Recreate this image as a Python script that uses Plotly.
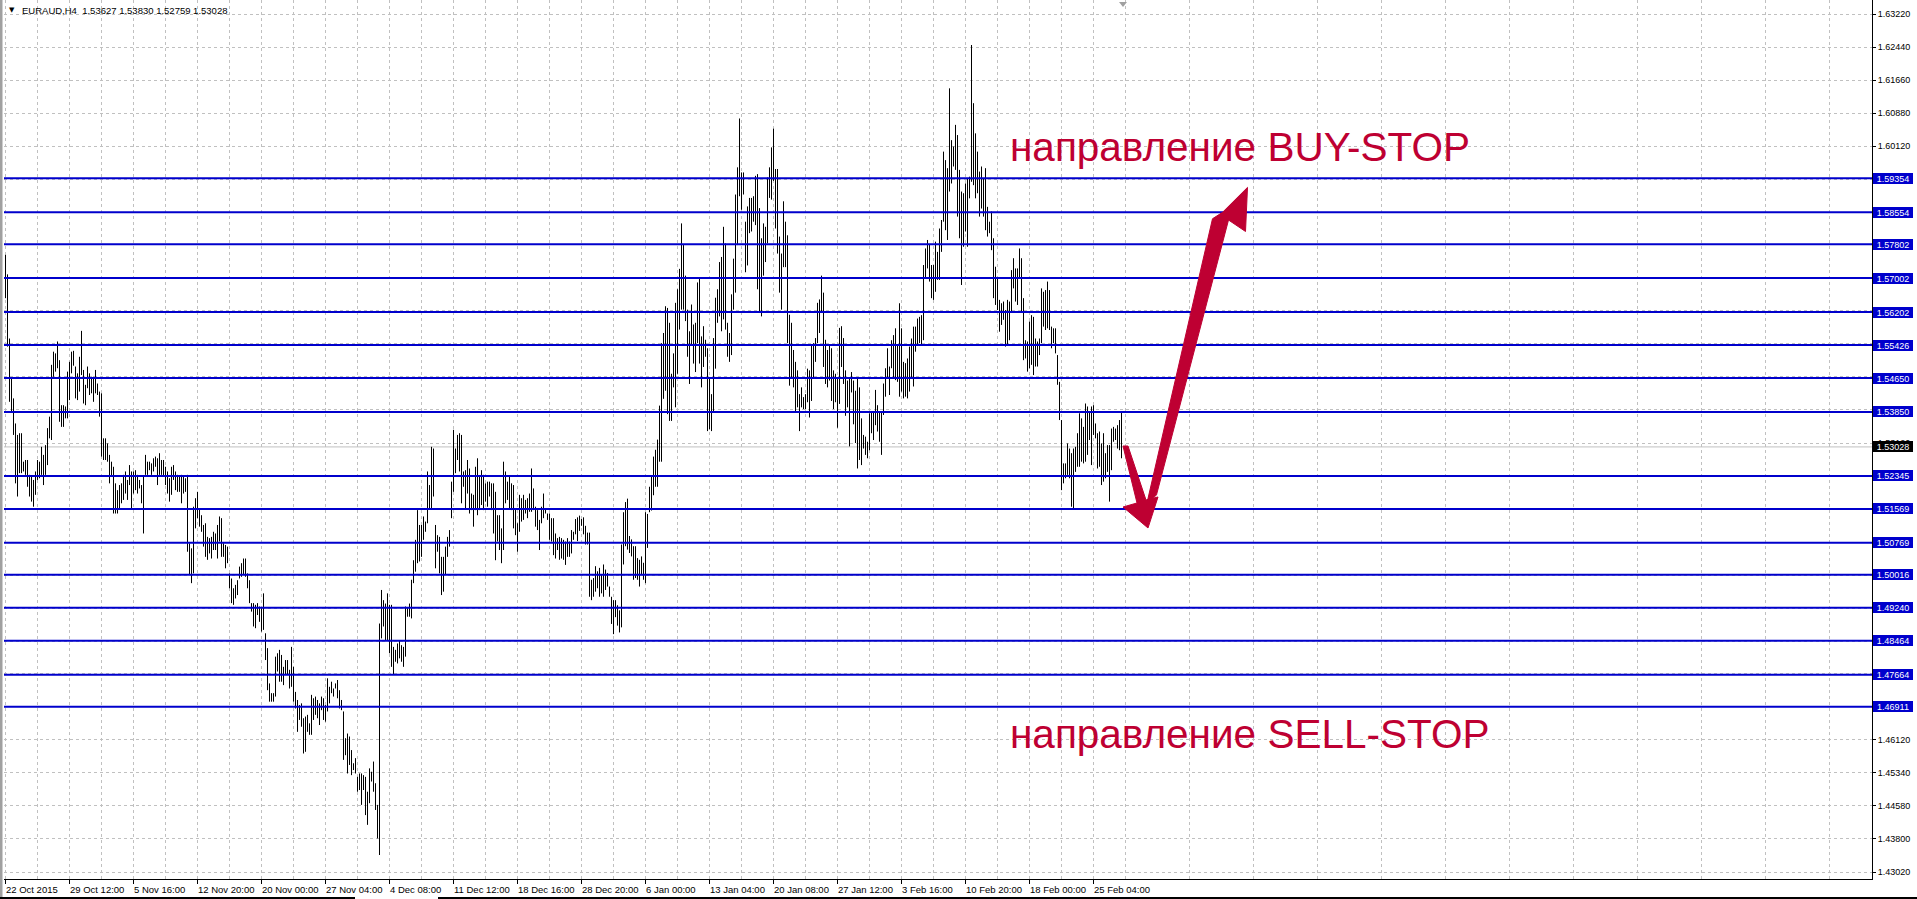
import plotly.graph_objects as go

# ---------------- data ----------------
SYMBOL = "EURAUD,H4"
LAST_OHLC = ["1.53627", "1.53830", "1.52759", "1.53028"]
BID = 1.53028

HIGH = [
1.5755,1.5709,1.5558,1.5464,1.5417,1.5358,1.5331,1.5335,1.5335,1.5268,1.5272,1.5272,1.5237,1.5233,1.5225,1.5245,
1.5272,1.5268,1.5303,1.5284,1.5307,1.5347,1.5374,1.5496,1.5527,1.5523,1.5551,1.5507,1.5401,1.5401,1.5398,1.5480,
1.5503,1.5527,1.5529,1.5492,1.5476,1.5515,1.5576,1.5484,1.5449,1.5492,1.5476,1.5468,1.5468,1.5484,1.5452,1.5433,
1.5429,1.5323,1.5323,1.5311,1.5284,1.5268,1.5256,1.5217,1.5201,1.5213,1.5217,1.5237,1.5245,1.5225,1.5260,1.5245,
1.5245,1.5248,1.5237,1.5225,1.5213,1.5233,1.5284,1.5268,1.5268,1.5264,1.5276,1.5280,1.5276,1.5288,1.5272,1.5272,
1.5256,1.5245,1.5229,1.5256,1.5260,1.5245,1.5237,1.5233,1.5237,1.5233,1.5229,1.5237,1.5076,1.5064,1.5162,1.5182,
1.5197,1.5158,1.5142,1.5119,1.5123,1.5091,1.5088,1.5091,1.5103,1.5099,1.5119,1.5139,1.5135,1.5076,1.5072,1.5068,
1.5005,1.4993,1.4970,1.4978,1.4989,1.5021,1.5029,1.5040,1.5040,1.5005,1.4989,1.4935,1.4935,1.4931,1.4935,1.4927,
1.4923,1.4958,1.4864,1.4829,1.4746,1.4723,1.4723,1.4809,1.4817,1.4825,1.4813,1.4785,1.4801,1.4801,1.4778,
1.4832,1.4785,1.4726,1.4707,1.4695,1.4699,1.4664,1.4668,1.4672,1.4652,1.4719,1.4711,1.4715,1.4707,1.4699,1.4715,
1.4711,1.4695,1.4758,1.4738,1.4750,1.4734,1.4746,1.4754,1.4730,1.4707,1.4680,1.4617,1.4628,1.4621,1.4589,1.4558,
1.4570,1.4526,1.4534,1.4534,1.4530,1.4526,1.4491,1.4546,1.4538,1.4562,1.4511,1.4460,1.4887,1.4966,1.4942,1.4934,
1.4958,1.4931,1.4931,1.4832,1.4825,1.4840,1.4848,1.4836,1.4832,1.4927,1.4923,1.4934,1.4990,1.5036,1.5084,1.5154,
1.5119,1.5119,1.5139,1.5127,1.5245,1.5213,1.5303,1.5299,1.5119,1.5095,1.5091,1.5044,1.5044,1.5068,1.5091,1.5107,
1.5221,1.5343,1.5299,1.5331,1.5335,1.5331,1.5245,1.5248,1.5272,1.5252,1.5193,1.5190,1.5256,1.5276,1.5233,1.5248,
1.5237,1.5217,1.5221,1.5221,1.5217,1.5217,1.5197,1.5142,1.5142,1.5111,1.5268,1.5245,1.5221,1.5233,1.5217,1.5213,
1.5158,1.5123,1.5190,1.5182,1.5190,1.5178,1.5182,1.5193,1.5252,1.5205,1.5162,1.5154,1.5131,1.5162,1.5193,1.5158,
1.5146,1.5146,1.5135,1.5135,1.5099,1.5088,1.5091,1.5088,1.5084,1.5080,1.5088,1.5080,1.5107,1.5103,
1.5133,1.5137,1.5141,1.5133,1.5137,1.5117,1.5101,1.5101,1.4990,1.4994,1.5022,1.5010,1.5018,1.5002,1.5026,1.5014,
1.5006,1.4974,1.4950,1.4942,1.4942,1.4930,1.4918,1.5073,1.5149,1.5173,1.5181,1.5093,1.5085,1.5069,1.5069,1.5041,
1.5037,1.5045,1.5030,1.5149,1.5145,1.5209,1.5236,1.5280,1.5296,1.5320,1.5400,1.5547,1.5571,1.5634,1.5630,1.5595,
1.5475,1.5523,1.5642,1.5674,1.5722,1.5829,1.5778,1.5706,1.5626,1.5575,1.5638,1.5591,1.5595,1.5690,1.5698,1.5563,
1.5587,1.5555,1.5535,1.5467,1.5427,1.5559,1.5654,1.5674,1.5738,1.5750,1.5821,1.5782,1.5595,1.5571,1.5662,1.5746,
1.5897,1.5961,1.6076,1.5949,1.5949,1.5833,1.5869,1.5889,1.5889,1.5893,1.5941,1.5945,1.5865,1.5794,1.5829,1.5821,
1.5937,1.5961,1.6008,1.6052,1.5957,1.5957,1.5798,1.5758,1.5881,1.5833,1.5801,1.5614,1.5595,1.5531,1.5503,1.5483,
1.5427,1.5443,1.5420,1.5427,1.5487,1.5483,1.5543,1.5547,1.5559,1.5642,1.5650,1.5706,1.5666,1.5555,1.5531,1.5543,
1.5535,1.5483,1.5475,1.5467,1.5583,1.5587,1.5559,1.5483,1.5459,1.5467,1.5479,1.5459,1.5435,1.5463,1.5443,
1.5370,1.5331,1.5327,1.5315,1.5382,1.5386,1.5386,1.5437,1.5401,1.5386,1.5386,1.5452,1.5488,1.5535,1.5492,1.5554,
1.5566,1.5582,1.5543,1.5641,1.5582,1.5503,1.5500,1.5511,1.5539,1.5558,1.5586,1.5586,1.5605,1.5609,1.5613,1.5731,
1.5770,1.5790,1.5778,1.5731,1.5731,1.5786,1.5762,1.5817,1.5837,1.5998,1.5978,1.5959,1.6147,1.6025,1.6010,1.6061,
1.6037,1.5955,1.5904,1.5900,1.5923,1.5935,1.5939,1.6249,1.6112,1.6041,1.5998,1.5951,1.5963,1.5935,1.5959,1.5868,
1.5833,1.5857,1.5794,1.5727,1.5700,1.5649,1.5641,1.5645,1.5625,1.5649,1.5645,1.5719,1.5747,1.5723,1.5723,1.5770,
1.5747,1.5653,1.5554,1.5551,1.5598,1.5613,1.5609,1.5558,1.5551,1.5558,1.5676,1.5668,1.5672,1.5692,1.5672,1.5586,
1.5582,1.5582,1.5519,1.5456,1.5366,1.5264,1.5264,1.5311,1.5299,1.5288,1.5299,1.5303,1.5335,1.5382,1.5370,1.5350,
1.5405,1.5398,1.5386,1.5398,1.5401,1.5358,1.5335,1.5339,1.5311,1.5335,1.5288,1.5307,1.5307,1.5346,1.5350,1.5346,
1.5354,1.5366,1.5383,
]

LOW = [
1.5653,1.5539,1.5409,1.5386,1.5331,1.5217,1.5186,1.5241,1.5241,1.5245,1.5237,1.5209,1.5186,1.5174,1.5162,1.5190,
1.5225,1.5229,1.5237,1.5213,1.5237,1.5260,1.5323,1.5319,1.5468,1.5480,1.5488,1.5362,1.5350,1.5350,1.5370,1.5370,
1.5413,1.5476,1.5494,1.5417,1.5413,1.5433,1.5472,1.5405,1.5401,1.5441,1.5425,1.5429,1.5409,1.5429,1.5425,1.5374,
1.5280,1.5272,1.5272,1.5268,1.5217,1.5233,1.5146,1.5146,1.5146,1.5158,1.5170,1.5178,1.5193,1.5178,1.5213,1.5158,
1.5193,1.5201,1.5193,1.5205,1.5170,1.5099,1.5237,1.5237,1.5248,1.5237,1.5245,1.5256,1.5213,1.5237,1.5237,1.5233,
1.5213,1.5193,1.5174,1.5190,1.5225,1.5201,1.5197,1.5197,1.5170,1.5193,1.5197,1.5056,1.5001,1.4982,1.5005,1.5111,
1.5135,1.5115,1.5103,1.5068,1.5044,1.5037,1.5052,1.5040,1.5060,1.5060,1.5040,1.5080,1.5044,1.5044,1.5017,1.5029,
1.4970,1.4935,1.4931,1.4946,1.4954,1.4993,1.4997,1.5001,1.4997,1.4970,1.4935,1.4915,1.4880,1.4876,1.4907,1.4891,
1.4868,1.4872,1.4801,1.4730,1.4703,1.4703,1.4703,1.4715,1.4774,1.4750,1.4750,1.4742,1.4766,1.4766,1.4734,
1.4738,1.4703,1.4687,1.4632,1.4660,1.4644,1.4581,1.4585,1.4632,1.4625,1.4625,1.4660,1.4672,1.4664,1.4648,1.4683,
1.4660,1.4656,1.4680,1.4699,1.4723,1.4715,1.4734,1.4711,1.4687,1.4683,1.4566,1.4577,1.4534,1.4554,1.4530,1.4542,
1.4534,1.4491,1.4495,1.4460,1.4495,1.4436,1.4413,1.4464,1.4515,1.4491,1.4448,1.4381,1.4342,1.4852,1.4880,1.4848,
1.4848,1.4817,1.4785,1.4766,1.4797,1.4793,1.4805,1.4797,1.4785,1.4809,1.4903,1.4903,1.4899,1.4982,1.5009,1.5029,
1.5033,1.5044,1.5084,1.5103,1.5123,1.5158,1.5158,1.5186,1.5017,1.5056,1.5005,1.4954,1.4962,1.5001,1.5044,1.5068,
1.5135,1.5197,1.5241,1.5272,1.5245,1.5170,1.5209,1.5158,1.5193,1.5146,1.5154,1.5115,1.5154,1.5142,1.5154,1.5166,
1.5154,1.5174,1.5162,1.5186,1.5154,1.5099,1.5036,1.5080,1.5060,1.5029,1.5060,1.5170,1.5178,1.5158,1.5154,1.5111,
1.5095,1.5056,1.5103,1.5127,1.5131,1.5146,1.5135,1.5150,1.5150,1.5154,1.5115,1.5107,1.5060,1.5123,1.5135,1.5146,
1.5131,1.5084,1.5080,1.5048,1.5040,1.5060,1.5037,1.5040,1.5037,1.5025,1.5044,1.5044,1.5052,1.5084,
1.5097,1.5081,1.5105,1.5117,1.5097,1.5073,1.5073,1.4950,1.4942,1.4950,1.4962,1.4970,1.4950,1.4958,1.4950,1.4966,
1.4974,1.4950,1.4886,1.4862,1.4902,1.4882,1.4866,1.4878,1.5026,1.5069,1.5061,1.5053,1.5045,1.4990,1.4994,1.4990,
1.4974,1.5002,1.4990,1.4982,1.5065,1.5149,1.5153,1.5189,1.5209,1.5209,1.5268,1.5268,1.5416,1.5435,1.5380,1.5364,
1.5364,1.5443,1.5396,1.5475,1.5579,1.5626,1.5626,1.5599,1.5515,1.5451,1.5543,1.5499,1.5479,1.5547,1.5499,1.5443,
1.5491,1.5515,1.5340,1.5344,1.5340,1.5384,1.5487,1.5595,1.5610,1.5575,1.5603,1.5579,1.5515,1.5503,1.5519,1.5626,
1.5666,1.5778,1.5893,1.5861,1.5897,1.5714,1.5730,1.5806,1.5810,1.5833,1.5825,1.5674,1.5618,1.5610,1.5706,1.5738,
1.5782,1.5889,1.5885,1.5929,1.5817,1.5758,1.5666,1.5626,1.5726,1.5726,1.5547,1.5447,1.5467,1.5443,1.5384,1.5396,
1.5340,1.5396,1.5392,1.5392,1.5408,1.5372,1.5411,1.5467,1.5503,1.5547,1.5571,1.5618,1.5491,1.5451,1.5443,1.5459,
1.5411,1.5392,1.5408,1.5348,1.5404,1.5491,1.5451,1.5376,1.5396,1.5304,1.5431,1.5356,1.5312,1.5252,1.5272,
1.5260,1.5299,1.5284,1.5276,1.5295,1.5335,1.5319,1.5354,1.5339,1.5315,1.5284,1.5378,1.5421,1.5464,1.5425,1.5488,
1.5464,1.5460,1.5456,1.5421,1.5433,1.5417,1.5421,1.5417,1.5433,1.5464,1.5445,1.5527,1.5543,1.5547,1.5543,1.5554,
1.5700,1.5723,1.5692,1.5653,1.5649,1.5668,1.5696,1.5696,1.5762,1.5833,1.5813,1.5790,1.5904,1.5923,1.5963,1.5955,
1.5845,1.5794,1.5684,1.5774,1.5810,1.5774,1.5888,1.5927,1.5919,1.5888,1.5900,1.5845,1.5864,1.5845,1.5813,1.5798,
1.5806,1.5766,1.5653,1.5637,1.5625,1.5574,1.5590,1.5602,1.5539,1.5543,1.5554,1.5621,1.5676,1.5645,1.5637,1.5700,
1.5621,1.5507,1.5511,1.5480,1.5488,1.5496,1.5472,1.5492,1.5492,1.5519,1.5547,1.5586,1.5578,1.5582,1.5578,1.5535,
1.5547,1.5523,1.5449,1.5366,1.5201,1.5217,1.5229,1.5237,1.5229,1.5162,1.5158,1.5244,1.5256,1.5256,1.5268,1.5264,
1.5268,1.5284,1.5319,1.5260,1.5331,1.5323,1.5252,1.5256,1.5213,1.5221,1.5229,1.5244,1.5174,1.5248,1.5315,1.5319,
1.5299,1.5295,1.5276,
]

LEVELS = [1.59354, 1.58554, 1.57802, 1.57002, 1.56202, 1.55426, 1.54650, 1.53850,
          1.52345, 1.51569, 1.50769, 1.50016, 1.49240, 1.48464, 1.47664, 1.46911]

PRICE_GRID = [1.63220, 1.62443, 1.61666, 1.60889, 1.60112, 1.59335, 1.58558, 1.57782,
              1.57005, 1.56228, 1.55451, 1.54674, 1.53897, 1.53120, 1.52343, 1.51566,
              1.50789, 1.50012, 1.49235, 1.48458, 1.47682, 1.46905, 1.46128, 1.45351,
              1.44574, 1.43797, 1.43020]
PRICE_LABELS = ["1.63220", "1.62440", "1.61660", "1.60880", "1.60120", "", "", "",
                "", "", "", "", "", "1.53120", "", "",
                "", "", "", "", "", "", "1.46120", "1.45340",
                "1.44580", "1.43800", "1.43020"]

DATE_POS = [0, 32, 64, 96, 128, 160, 192, 224, 256, 288, 320, 352, 384, 416, 448, 480, 512, 544]
DATE_LABELS = ["22 Oct 2015", "29 Oct 12:00", "5 Nov 16:00", "12 Nov 20:00", "20 Nov 00:00",
               "27 Nov 04:00", "4 Dec 08:00", "11 Dec 12:00", "18 Dec 16:00", "28 Dec 20:00",
               "6 Jan 00:00", "13 Jan 04:00", "20 Jan 08:00", "27 Jan 12:00", "3 Feb 16:00",
               "10 Feb 20:00", "18 Feb 00:00", "25 Feb 04:00"]
MINOR_POS = [16 + 32 * k for k in range(29)]

BUY_TEXT = "направление BUY-STOP"
SELL_TEXT = "направление SELL-STOP"

# arrows (bar index, price)
ARROW_DOWN = [(558.75, 1.53049), (561.25, 1.53049), (570.25, 1.51778), (576.25, 1.51849),
              (571.25, 1.51119), (558.75, 1.51613), (565.75, 1.51708)]
ARROW_UP = [(570.5, 1.51660), (575.5, 1.51900), (611.5, 1.58370), (620.0, 1.58100),
            (621.0, 1.59138), (608.5, 1.58550), (603.5, 1.58400)]

# ---------------- figure ----------------
BLUE = "#0000CC"
RED = "#BE0032"
FONT = "Liberation Sans"
PW, PH = 1868, 879   # plot area in pixels

xs, ys = [], []
for i, (h, l) in enumerate(zip(HIGH, LOW)):
    xs += [i, i, None]
    ys += [l, h, None]

fig = go.Figure()
fig.add_trace(go.Scatter(x=xs, y=ys, mode="lines", line=dict(color="black", width=1),
                         hoverinfo="skip", showlegend=False))

shapes = []
shapes.append(dict(type="line", xref="paper", x0=0, x1=1, yref="y", y0=BID, y1=BID,
                   line=dict(color="#C0C0C0", width=1), layer="between"))
for lv in LEVELS:
    shapes.append(dict(type="line", xref="paper", x0=0, x1=1, yref="y", y0=lv, y1=lv,
                       line=dict(color=BLUE, width=2), layer="above"))


def poly(pts):
    return "M " + " L ".join(f"{x},{y}" for x, y in pts) + " Z"


for pts in (ARROW_DOWN, ARROW_UP):
    shapes.append(dict(type="path", xref="x", yref="y", path=poly(pts),
                       fillcolor=RED, line=dict(color=RED, width=1), layer="above"))

# window chrome: left border, bottom border, chart-shift marker
shapes.append(dict(type="rect", xref="paper", yref="paper", x0=-4 / PW, x1=-1.5 / PW,
                   y0=-20 / PH, y1=1, fillcolor="#A0A0A0", line=dict(width=0), layer="above"))
shapes.append(dict(type="rect", xref="paper", yref="paper", x0=-4 / PW, x1=351 / PW,
                   y0=-20 / PH, y1=-18 / PH, fillcolor="black", line=dict(width=0), layer="above"))
shapes.append(dict(type="rect", xref="paper", yref="paper", x0=434 / PW, x1=1913 / PW,
                   y0=-20 / PH, y1=-18 / PH, fillcolor="black", line=dict(width=0), layer="above"))
shapes.append(dict(type="path", xref="paper", yref="paper",
                   path=f"M {1115 / PW},{1 - 2 / PH} L {1123 / PW},{1 - 2 / PH} L {1119 / PW},{1 - 7 / PH} Z",
                   fillcolor="#A0A0A0", line=dict(width=0), layer="above"))

annotations = []
for lv in LEVELS:
    annotations.append(dict(xref="paper", x=1, xanchor="left", xshift=1, yref="y", y=lv,
                            yanchor="middle", text=f"{lv:.5f}", showarrow=False,
                            bgcolor=BLUE, font=dict(color="white", size=9, family=FONT),
                            width=38, height=9, borderpad=1, borderwidth=0, align="center"))
annotations.append(dict(xref="paper", x=1, xanchor="left", xshift=1, yref="y", y=BID,
                        yanchor="middle", text=f"{BID:.5f}", showarrow=False,
                        bgcolor="black", font=dict(color="white", size=9, family=FONT),
                        width=38, height=9, borderpad=1, borderwidth=0, align="center"))
for p, t in zip(DATE_POS, DATE_LABELS):
    annotations.append(dict(xref="x", x=p, xanchor="left", xshift=-2, yref="paper", y=0,
                            yanchor="top", yshift=-3, text=t, showarrow=False,
                            font=dict(color="black", size=9.5, family=FONT)))
annotations.append(dict(xref="paper", x=16 / PW, xanchor="left", yref="paper",
                        y=1 - 10.5 / PH, yanchor="middle",
                        text=SYMBOL + "  " + " ".join(LAST_OHLC), showarrow=False,
                        font=dict(color="black", size=9.5, family=FONT)))
annotations.append(dict(xref="paper", x=3 / PW, xanchor="left", yref="paper",
                        y=1 - 10 / PH, yanchor="middle", text="▼", showarrow=False,
                        font=dict(color="black", size=7, family="DejaVu Sans")))
annotations.append(dict(xref="x", x=501.0, xanchor="left", yref="y", y=1.60089,
                        yanchor="middle", text=BUY_TEXT, showarrow=False,
                        font=dict(color=RED, size=40.5, family=FONT)))
annotations.append(dict(xref="x", x=501.0, xanchor="left", yref="y", y=1.46269,
                        yanchor="middle", text=SELL_TEXT, showarrow=False,
                        font=dict(color=RED, size=40.5, family=FONT)))

fig.update_layout(
    width=1917, height=899,
    margin=dict(l=4, r=45, t=0, b=20),
    paper_bgcolor="white", plot_bgcolor="white",
    shapes=shapes, annotations=annotations,
    showlegend=False,
    xaxis=dict(range=[-0.75, 933.25], tickvals=DATE_POS, ticktext=[""] * len(DATE_POS),
               showticklabels=False, ticks="outside", ticklen=4, tickcolor="black",
               showgrid=True, gridcolor="#C0C0C0", griddash="3px,3px", gridwidth=1,
               minor=dict(tickvals=MINOR_POS, showgrid=True, gridcolor="#C0C0C0",
                          griddash="3px,3px", ticks=""),
               showline=True, linecolor="black", linewidth=1, zeroline=False, fixedrange=True),
    yaxis=dict(range=[1.428551, 1.635496], side="right", tickvals=PRICE_GRID,
               ticktext=PRICE_LABELS, ticks="outside", ticklen=3, tickcolor="black",
               tickfont=dict(color="black", size=9, family=FONT),
               showgrid=True, gridcolor="#C0C0C0", griddash="3px,3px", gridwidth=1,
               showline=True, linecolor="black", linewidth=1, zeroline=False, fixedrange=True),
)

fig.write_html("out.html", config={"displayModeBar": False},
               post_script="document.body.style.margin='0px';document.body.style.overflow='hidden';")
